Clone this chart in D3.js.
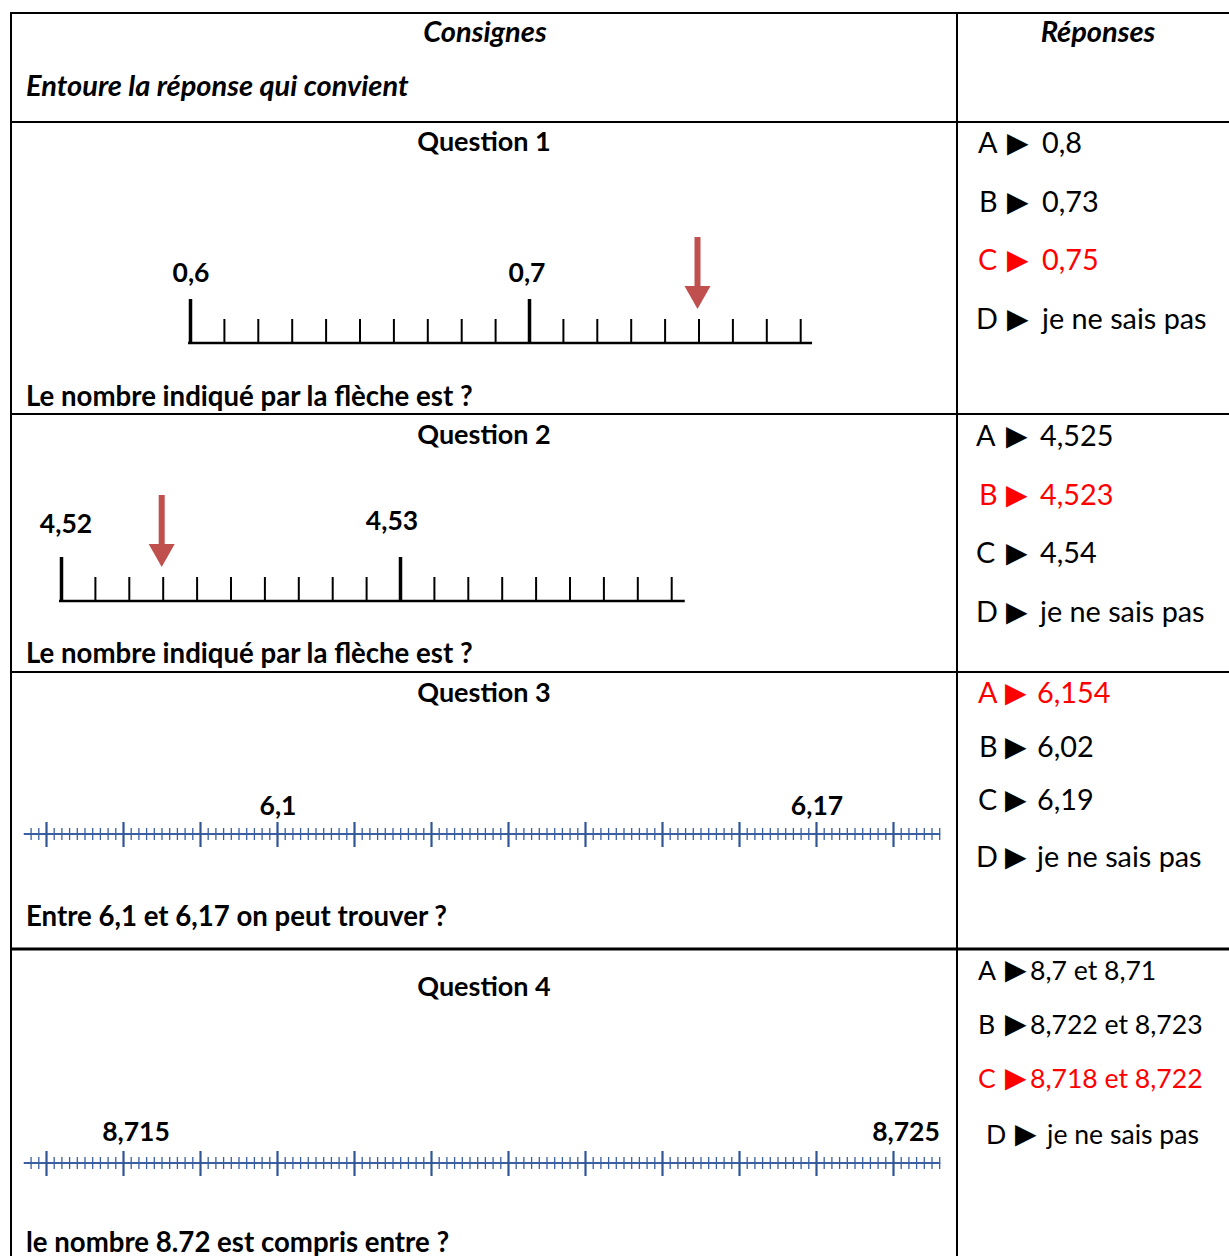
<!DOCTYPE html>
<html>
<head>
<meta charset="utf-8">
<script src="https://cdn.jsdelivr.net/npm/d3@7"></script>
<style>
  body { margin: 0; background: #fff; }
  text { font-family: Lato, 'Noto Sans', sans-serif; }
</style>
</head>
<body>
<svg width="1229" height="1256"></svg>
<script>
// ---- data ----
const headers = ['Consignes', 'Réponses']
const instruction = 'Entoure la réponse qui convient'
const questionTitles = ['Question 1', 'Question 2', 'Question 3', 'Question 4']
const prompts = [
  'Le nombre indiqué par la flèche est ?',
  'Le nombre indiqué par la flèche est ?',
  'Entre 6,1 et 6,17 on peut trouver ?',
  'le nombre 8.72 est compris entre ?'
]
const letters = ['A', 'B', 'C', 'D']
const answers1 = ['0,8', '0,73', '0,75', 'je ne sais pas']
const answers2 = ['4,525', '4,523', '4,54', 'je ne sais pas']
const answers3 = ['6,154', '6,02', '6,19', 'je ne sais pas']
const answers4 = ['8,7 et 8,71', '8,722 et 8,723', '8,718 et 8,722', 'je ne sais pas']
const correctAnswers = [2, 1, 0, 2]

// number lines: labelled values, arrow value, extent of the drawn line
const line1Labels = [0.6, 0.7]
const line1Arrow = 0.75
const line1Extent = [0.6, 0.7835]
const line2Labels = [4.52, 4.53]
const line2Arrow = 4.523
const line2Extent = [4.52, 4.5384]
const line3Labels = [6.1, 6.17]
const line3Steps = [0.01, 0.001]
const line3Extent = [6.0675, 6.186]
const line4Labels = [8.715, 8.725]
const line4Steps = [0.001, 0.0001]
const line4Extent = [8.71375, 8.7256]

const svg = d3.select('svg')
const red = '#ff0000'
const arrowColor = '#c0504d'
const blue = '#3a5fa3'
const fr = d => String(+d.toFixed(4)).replace('.', ',')

// ---- table grid ----
let colLeft = 11, colMid = 957, colRight = 1229
let rowLines = [13, 122, 414, 672, 949]
svg.append('line').attr('x1', colLeft).attr('x2', colLeft).attr('y1', 12).attr('y2', 1256)
  .attr('stroke', '#000').attr('stroke-width', 2)
svg.append('line').attr('x1', colMid).attr('x2', colMid).attr('y1', 12).attr('y2', 1256)
  .attr('stroke', '#000').attr('stroke-width', 2)
svg.selectAll('line.row').data(rowLines).enter().append('line')
  .attr('class', 'row')
  .attr('x1', 10).attr('x2', colRight)
  .attr('y1', d => d).attr('y2', d => d)
  .attr('stroke', '#000')
  .attr('stroke-width', (d, i) => i === 4 ? 3 : 2)

// ---- header ----
svg.selectAll('text.head').data(headers).enter().append('text')
  .attr('class', 'head')
  .attr('x', (d, i) => i === 0 ? 485 : 1098)
  .attr('y', 42)
  .attr('text-anchor', 'middle')
  .attr('font-size', 29).attr('font-weight', 'bold').attr('font-style', 'italic')
  .text(d => d)
svg.append('text').attr('x', 26).attr('y', 96)
  .attr('font-size', 29).attr('font-weight', 'bold').attr('font-style', 'italic')
  .text(instruction)

// ---- question titles and prompts ----
let titleY = [151, 444, 702, 996]
let promptY = [406, 663, 926, 1252]
svg.selectAll('text.title').data(questionTitles).enter().append('text')
  .attr('class', 'title')
  .attr('x', 484).attr('y', (d, i) => titleY[i])
  .attr('text-anchor', 'middle')
  .attr('font-size', 27).attr('font-weight', 'bold')
  .text(d => d)
svg.selectAll('text.prompt').data(prompts).enter().append('text')
  .attr('class', 'prompt')
  .attr('x', 26).attr('y', (d, i) => promptY[i])
  .attr('font-size', 27.6).attr('font-weight', 'bold')
  .text(d => d)

// ---- answers ----
let answerSets = [answers1, answers2, answers3, answers4]
let answerLayout = [
  { ys: [153, 212, 270, 329], lx: [978, 979, 978, 976], tx: [1007], vx: [1042], fs: 28.8 },
  { ys: [446, 505, 563, 622], lx: [976, 979, 976, 976], tx: [1006], vx: [1040], fs: 28.8 },
  { ys: [703, 757, 810, 867], lx: [978, 979, 978, 976], tx: [1005], vx: [1037], fs: 28.8 },
  { ys: [980, 1034, 1088, 1144], lx: [978, 978, 978, 986], tx: [1005, 1005, 1005, 1015], vx: [1030, 1030, 1030, 1047], fs: 26.6 }
]
answerSets.forEach((set, q) => {
  let lay = answerLayout[q]
  let g = svg.append('g')
  set.forEach((ans, i) => {
    let col = i === correctAnswers[q] ? red : '#000'
    let tx = lay.tx[i] !== undefined ? lay.tx[i] : lay.tx[0]
    let vx = lay.vx[i] !== undefined ? lay.vx[i] : lay.vx[0]
    g.append('text').attr('x', lay.lx[i]).attr('y', lay.ys[i])
      .attr('font-size', lay.fs).attr('fill', col).text(letters[i])
    g.append('text').attr('x', tx).attr('y', lay.ys[i] - 1)
      .attr('font-family', 'DejaVu Sans').attr('font-size', 28).attr('fill', col).text('\u25B6')
    g.append('text').attr('x', vx).attr('y', lay.ys[i])
      .attr('font-size', lay.fs).attr('fill', col).text(ans)
  })
})

// ---- black rulers (questions 1 and 2) ----
const drawRuler = (labels, extent, arrowVal, x0, x1, y, labelY, labelDx) => {
  let x = d3.scaleLinear().domain(labels).range([x0, x1])
  let step = (labels[1] - labels[0]) / 10
  let n = Math.floor((extent[1] - labels[0]) / step + 1e-6)
  let ticks = d3.range(n + 1).map(i => labels[0] + i * step)
  let minor = ticks.filter((d, i) => i % 10 !== 0)
  let g = svg.append('g')

  g.append('line').attr('x1', x(extent[0]) - 2).attr('x2', x(extent[1]))
    .attr('y1', y).attr('y2', y).attr('stroke', '#000').attr('stroke-width', 2.3)

  let minorAxis = g.append('g').attr('transform', `translate(0,${y})`)
    .call(d3.axisTop(x).tickValues(minor).tickSize(24).tickFormat(''))
  minorAxis.select('.domain').remove()
  minorAxis.selectAll('line').attr('stroke', '#000').attr('stroke-width', 2)

  let majorAxis = g.append('g').attr('transform', `translate(0,${y})`)
    .call(d3.axisTop(x).tickValues(labels).tickSize(44).tickFormat(''))
  majorAxis.select('.domain').remove()
  majorAxis.selectAll('line').attr('stroke', '#000').attr('stroke-width', 3.5)

  g.selectAll('text.lab').data(labels).enter().append('text')
    .attr('class', 'lab')
    .attr('x', (d, i) => x(d) + labelDx[i]).attr('y', (d, i) => labelY[i])
    .attr('text-anchor', 'middle')
    .attr('font-size', 26.5).attr('font-weight', 'bold')
    .text(fr)

  // arrow pointing at the answer
  let ax = x(arrowVal) - 1
  let top = y - 106, headTop = y - 57, tip = y - 34
  g.append('rect').attr('x', ax - 3).attr('y', top).attr('width', 6).attr('height', headTop - top + 1)
    .attr('fill', arrowColor)
  g.append('path')
    .attr('d', `M${ax - 13},${headTop} L${ax + 13},${headTop} L${ax},${tip} Z`)
    .attr('fill', arrowColor)
}
drawRuler(line1Labels, line1Extent, line1Arrow, 190, 529, 343, [282, 282], [1, -2])
drawRuler(line2Labels, line2Extent, line2Arrow, 61, 400, 601, [533, 530], [5, -8])

// ---- blue number lines (questions 3 and 4) ----
const drawBlueLine = (labels, steps, extent, x0, x1, y, labelY, labelDx) => {
  let x = d3.scaleLinear().domain(labels).range([x0, x1])
  let minorStep = steps[1]
  let first = Math.ceil((extent[0] - labels[0]) / minorStep - 1e-6)
  let last = Math.floor((extent[1] - labels[0]) / minorStep + 1e-6)
  let idx = d3.range(first, last + 1)
  let isMajor = i => ((i % 10) + 10) % 10 === 0
  let minor = idx.filter(i => !isMajor(i)).map(i => labels[0] + i * minorStep)
  let major = idx.filter(isMajor).map(i => labels[0] + i * minorStep)
  let g = svg.append('g')

  g.append('line').attr('x1', x(extent[0]) - 3).attr('x2', x(extent[1]) + 1)
    .attr('y1', y).attr('y2', y).attr('stroke', blue).attr('stroke-width', 2.2)

  let minorAxis = g.append('g').attr('transform', `translate(0,${y - 6})`)
    .call(d3.axisBottom(x).tickValues(minor).tickSize(12).tickFormat(''))
  minorAxis.select('.domain').remove()
  minorAxis.selectAll('line').attr('stroke', blue).attr('stroke-width', 1.3)

  let majorAxis = g.append('g').attr('transform', `translate(0,${y - 12})`)
    .call(d3.axisBottom(x).tickValues(major).tickSize(25).tickFormat(''))
  majorAxis.select('.domain').remove()
  majorAxis.selectAll('line').attr('stroke', '#2f5597').attr('stroke-width', 2.2)

  g.selectAll('text.lab').data(labels).enter().append('text')
    .attr('class', 'lab')
    .attr('x', d => x(d) + labelDx).attr('y', labelY)
    .attr('text-anchor', 'middle')
    .attr('font-size', 26.5).attr('font-weight', 'bold')
    .text(fr)
}
drawBlueLine(line3Labels, line3Steps, line3Extent, 277, 816, 834, 815, 1)
drawBlueLine(line4Labels, line4Steps, line4Extent, 123, 893, 1163, 1141, 13)
</script>
</body>
</html>
